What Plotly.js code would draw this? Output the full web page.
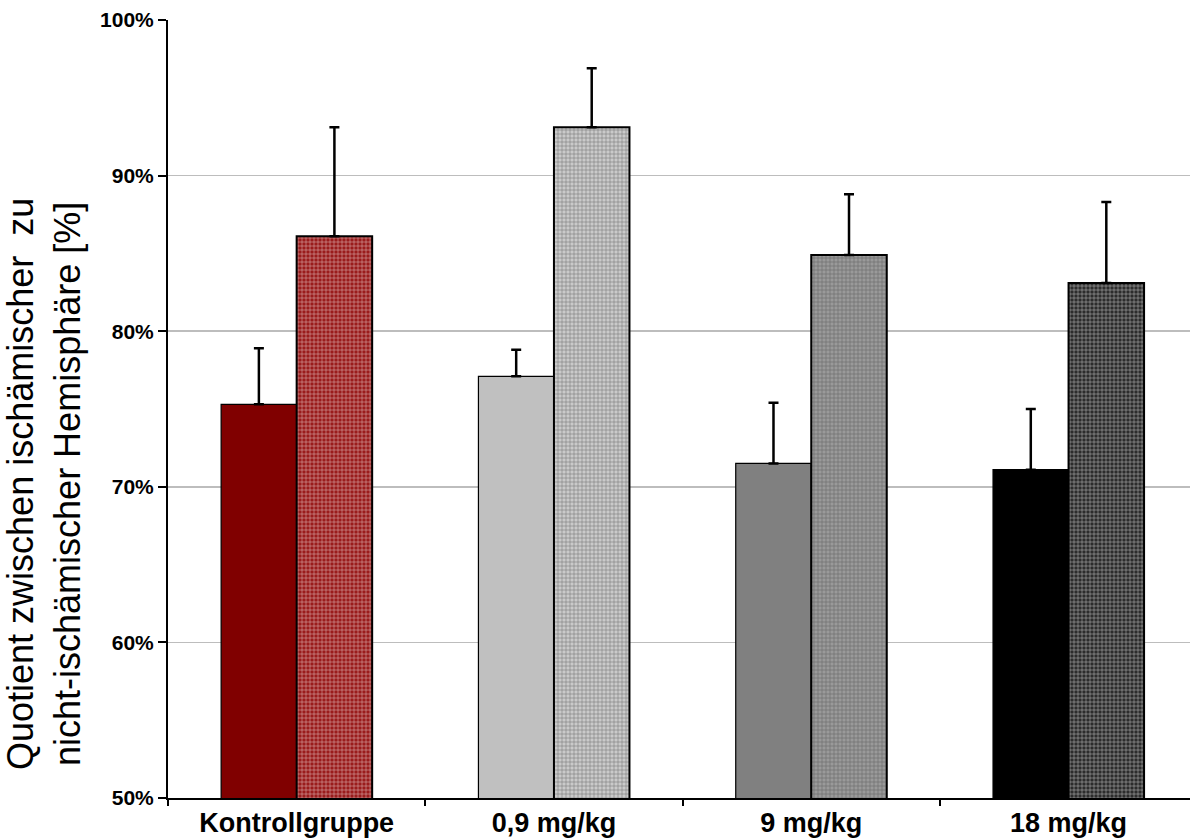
<!DOCTYPE html>
<html>
<head>
<meta charset="utf-8">
<script src="https://cdn.plot.ly/plotly-3.0.1.min.js"></script>
<style>html,body{margin:0;padding:0;background:#fff;overflow:hidden}#chart{width:1190px;height:839px}</style>
</head>
<body>
<div id="chart"></div>
<script>
const groups = ['Kontrollgruppe', '0,9 mg/kg', '9 mg/kg', '18 mg/kg'];
const solidValues = [75.3, 77.1, 71.5, 71.1];
const solidErrors = [3.6, 1.7, 3.9, 3.9];
const patternValues = [86.1, 93.1, 84.9, 83.1];
const patternErrors = [7.0, 3.8, 3.9, 5.2];
const solidColors = ['#800000', '#c0c0c0', '#808080', '#000000'];
const patternBg = ['#9a1c1c', '#cacaca', '#9a9a9a', '#2c2c2c'];
const patternFg = ['#f0c8c8', '#f6f6f6', '#e2e2e2', '#aaaaaa'];
const yTicks = [50, 60, 70, 80, 90, 100];
const yTitle = 'Quotient zwischen ischämischer  zu<br>nicht-ischämischer Hemisphäre [%]';

const errStyle = {type: 'data', symmetric: false, color: '#000', thickness: 2.5, width: 5, visible: true};

const traces = [
  {
    type: 'bar', x: groups, y: solidValues,
    marker: {color: solidColors, line: {color: '#000', width: 1.2}},
    error_y: Object.assign({array: solidErrors, arrayminus: solidValues.map(() => 0)}, errStyle),
    hoverinfo: 'x+y'
  },
  {
    type: 'bar', x: groups, y: patternValues,
    marker: {
      color: patternBg,
      line: {color: '#000', width: 2},
      pattern: {shape: '+', fillmode: 'overlay', fgcolor: patternFg, fgopacity: 0.8, size: 4, solidity: 0.2}
    },
    error_y: Object.assign({array: patternErrors, arrayminus: patternValues.map(() => 0)}, errStyle),
    hoverinfo: 'x+y'
  }
];

const layout = {
  width: 1190, height: 839,
  margin: {l: 168, r: 0, t: 20, b: 41, pad: 0},
  paper_bgcolor: '#fff', plot_bgcolor: '#fff',
  showlegend: false,
  barmode: 'group', bargap: 0.413, bargroupgap: 0,
  font: {family: 'Liberation Sans, Arial, sans-serif', color: '#000'},
  xaxis: {
    range: [-0.5, 3.472],
    showline: true, linecolor: '#000', linewidth: 2,
    ticks: 'outside', tickson: 'boundaries', ticklen: 6, tickwidth: 2, tickcolor: '#000',
    showgrid: false, zeroline: false,
    tickfont: {family: 'Liberation Sans, Arial, sans-serif', size: 27, weight: 'bold', color: '#000'}
  },
  yaxis: {
    range: [50, 100], tickvals: yTicks, ticktext: yTicks.map(v => v + '%'),
    showline: true, linecolor: '#000', linewidth: 2,
    ticks: 'outside', ticklen: 8, tickwidth: 2, tickcolor: '#000',
    showgrid: true, gridcolor: '#bdbdbd', gridwidth: 1.5, zeroline: false,
    tickfont: {family: 'Liberation Sans, Arial, sans-serif', size: 21, weight: 'bold', color: '#000'}
  },
  annotations: [{
    text: yTitle, xref: 'paper', yref: 'paper',
    x: (44 - 168) / 1022, y: (798 - 484) / 778,
    xanchor: 'center', yanchor: 'middle', textangle: -90, showarrow: false,
    font: {family: 'Liberation Sans, Arial, sans-serif', size: 36, color: '#000'}
  }]
};

Plotly.newPlot('chart', traces, layout, {displayModeBar: false, staticPlot: true});
</script>
</body>
</html>
